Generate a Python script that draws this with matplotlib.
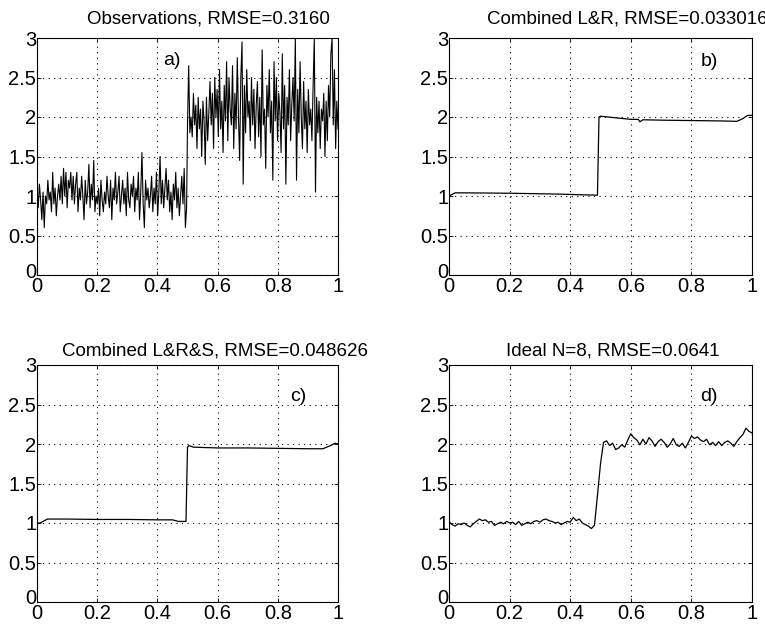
import numpy as np
import matplotlib
matplotlib.use("Agg")
import matplotlib.pyplot as plt
import matplotlib.transforms as mtransforms

plt.rcParams['font.family'] = ['Liberation Sans', 'DejaVu Sans']

# ---------------- data ----------------
obs_low = [1.1, 0.85, 1.15, 0.95, 0.7, 1.05, 0.6, 1.0, 0.9, 1.2,
           0.95, 1.05, 0.8, 1.3, 0.9, 1.1, 0.75, 1.0, 1.15, 0.95,
           1.25, 0.9, 1.35, 1.0, 1.3, 0.85, 1.2, 1.1, 1.3, 0.95,
           1.25, 0.9, 1.15, 1.3, 0.8, 1.1, 0.95, 1.25, 1.0, 0.7,
           1.2, 0.9, 1.05, 1.4, 0.85, 1.15, 0.95, 1.45, 0.8, 1.0,
           0.9, 1.1, 0.75, 1.2, 0.95, 0.8, 1.05, 0.9, 1.25, 1.0,
           0.85, 1.2, 0.7, 1.1, 0.95, 1.3, 0.9, 1.05, 1.25, 0.8,
           1.0, 1.2, 0.9, 1.1, 0.75, 1.3, 0.95, 0.85, 1.15, 1.0,
           1.25, 0.8, 1.1, 0.95, 1.3, 0.7, 1.05, 1.55, 0.9, 0.6,
           1.2, 0.95, 1.1, 0.85, 1.0, 1.25, 0.8, 1.1, 0.9, 1.3,
           0.75, 1.05, 1.5, 0.9, 1.2, 0.85, 1.1, 1.35, 0.95, 1.2,
           0.8, 1.05, 0.7, 1.15, 0.95, 1.3, 0.85, 1.1, 0.75, 1.0,
           1.25, 0.9, 1.35, 0.6, 0.85]
obs_high = [1.9, 2.65, 1.8, 2.0, 1.75, 2.3, 1.9, 2.15, 1.6, 2.25,
            1.85, 2.1, 1.5, 2.2, 1.95, 1.4, 2.25, 1.7, 2.05, 2.45,
            1.9, 2.3, 1.6, 2.5, 2.0, 2.35, 1.75, 2.6, 1.85, 2.2,
            1.55, 2.4, 1.95, 2.7, 1.7, 2.5, 2.1, 1.9, 2.65, 1.6,
            2.3, 1.85, 2.75, 2.0, 1.45, 2.5, 2.95, 1.15, 2.4, 1.8,
            2.6, 2.0, 2.2, 1.7, 2.5, 1.9, 2.35, 1.6, 2.15, 2.45,
            1.75, 2.25, 1.5, 2.85, 1.9, 2.1, 1.35, 2.4, 2.0, 2.6,
            1.8, 2.2, 1.2, 2.7, 1.95, 2.5, 1.7, 2.3, 2.05, 1.55,
            2.8, 1.85, 2.4, 1.15, 2.25, 1.9, 2.6, 1.7, 2.15, 2.5,
            1.95, 3.0, 1.2, 2.35, 1.8, 2.7, 2.0, 1.6, 2.45, 1.85,
            2.2, 1.55, 2.35, 1.9, 2.1, 1.7, 2.4, 3.0, 1.05, 2.25,
            1.8, 2.2, 1.6, 2.1, 1.95, 2.3, 1.5, 2.2, 1.7, 2.4,
            2.0, 2.8, 3.0, 1.9, 2.6, 1.6, 2.2, 1.85]
obs_x_low = np.linspace(0.0, 0.497, len(obs_low))
obs_x_high = np.linspace(0.5, 1.0, len(obs_high))

lr_x = [0.0, 0.02, 0.05, 0.2, 0.35, 0.49, 0.495, 0.5, 0.55, 0.6, 0.625, 0.63, 0.64, 0.7, 0.8, 0.9, 0.95, 0.97, 0.985, 1.0]
lr_y = [1.0, 1.04, 1.04, 1.035, 1.025, 1.01, 2.0, 2.01, 1.99, 1.97, 1.97, 1.94, 1.965, 1.96, 1.955, 1.95, 1.945, 1.98, 2.02, 2.02]

lrs_x = [0.0, 0.01, 0.025, 0.035, 0.1, 0.2, 0.3, 0.4, 0.45, 0.47, 0.495, 0.5, 0.505, 0.52, 0.6, 0.7, 0.8, 0.9, 0.95, 0.975, 0.99, 1.0]
lrs_y = [1.0, 1.0, 1.03, 1.05, 1.05, 1.045, 1.045, 1.04, 1.04, 1.02, 1.02, 1.96, 1.98, 1.96, 1.95, 1.95, 1.945, 1.94, 1.94, 1.98, 2.01, 2.0]

ideal_low = [1.02, 0.98, 0.96, 0.99, 0.98, 1.00, 0.97, 0.95, 0.99, 1.02,
             1.05, 1.03, 1.04, 1.01, 1.02, 0.97, 0.99, 1.01, 0.99, 1.02,
             1.00, 1.01, 0.98, 1.02, 0.97, 0.99, 1.01, 0.99, 1.02, 1.03,
             1.01, 1.04, 1.05, 1.03, 1.02, 1.00, 1.01, 0.98, 1.00, 1.02,
             1.01, 1.07, 1.03, 1.05, 1.00, 0.98, 0.96, 0.93, 0.97]
ideal_ramp = [1.35, 1.75, 2.02, 2.04]
ideal_high = [1.98, 2.01, 1.93, 1.95, 1.99, 1.96, 2.05, 2.13, 2.08, 2.05,
              1.99, 2.06, 2.00, 2.08, 2.04, 1.97, 2.03, 2.06, 2.02, 1.96,
              2.00, 2.07, 1.99, 1.97, 2.01, 1.95, 2.02, 2.10, 2.07, 2.09,
              2.05, 2.03, 2.06, 1.99, 2.02, 1.98, 2.03, 1.98, 2.02, 2.04,
              2.01, 1.97, 2.03, 2.08, 2.12, 2.20, 2.16, 2.14]
ideal_y = ideal_low + ideal_ramp + ideal_high
ideal_x = np.linspace(0.0, 1.0, len(ideal_y))

titles = ["Observations, RMSE=0.3160", "Combined L&R, RMSE=0.033016",
          "Combined L&R&S, RMSE=0.048626", "Ideal N=8, RMSE=0.0641"]
tags = ["a)", "b)", "c)", "d)"]
xticks = [0, 0.2, 0.4, 0.6, 0.8, 1]
xticklabels = ["0", "0.2", "0.4", "0.6", "0.8", "1"]
yticks = [0, 0.5, 1, 1.5, 2, 2.5, 3]
yticklabels = ["0", "0.5", "1", "1.5", "2", "2.5", "3"]

# ---------------- layout ----------------
W, H = 765, 624
fig = plt.figure(figsize=(W / 100, H / 100), dpi=100)

def rect(l, r, t, b):
    return [l / W, 1 - b / H, (r - l) / W, (b - t) / H]

axes = [fig.add_axes(rect(37, 338, 38, 275)),
        fig.add_axes(rect(449, 752, 38, 275)),
        fig.add_axes(rect(37, 338, 365, 602)),
        fig.add_axes(rect(449, 752, 365, 602))]

title_x = [0.568, 0.59, 0.59, 0.54]
title_y = [1.045, 1.045, 1.025, 1.025]
tag_pos = [(0.42, 2.72), (0.83, 2.7), (0.84, 2.6), (0.83, 2.6)]

lw = 0.9
axes[0].plot(np.concatenate([obs_x_low, obs_x_high]), obs_low + obs_high, color='black', lw=0.8)
axes[1].plot(lr_x, lr_y, color='black', lw=lw)
axes[2].plot(lrs_x, lrs_y, color='black', lw=lw)
axes[3].plot(ideal_x, ideal_y, color='black', lw=lw)

for i, ax in enumerate(axes):
    ax.set_xlim(0, 1)
    ax.set_ylim(0, 3)
    ax.set_xticks(xticks)
    ax.set_xticklabels(xticklabels)
    ax.set_yticks(yticks)
    ax.set_yticklabels(yticklabels)
    ax.tick_params(direction='in', length=3, width=0.6, labelsize=14.5,
                   top=True, right=True)
    ax.tick_params(axis='y', pad=0.5)
    ax.tick_params(axis='x', pad=1.5)
    ax.grid(True, color='black', linestyle=(0, (1, 4)), linewidth=0.8)
    for s in ax.spines.values():
        s.set_linewidth(0.8)
    ax.text(title_x[i], title_y[i], titles[i], transform=ax.transAxes,
            ha='center', va='bottom', fontsize=13.5)
    ax.text(tag_pos[i][0], tag_pos[i][1], tags[i], fontsize=14, ha='left', va='center')
    # lift the y "0" label a little, as in the reference
    lbl = ax.get_yticklabels()[0]
    lbl.set_transform(lbl.get_transform() +
                      mtransforms.ScaledTranslation(0, 5 / 100, fig.dpi_scale_trans))

fig.savefig("out.png", dpi=100)
